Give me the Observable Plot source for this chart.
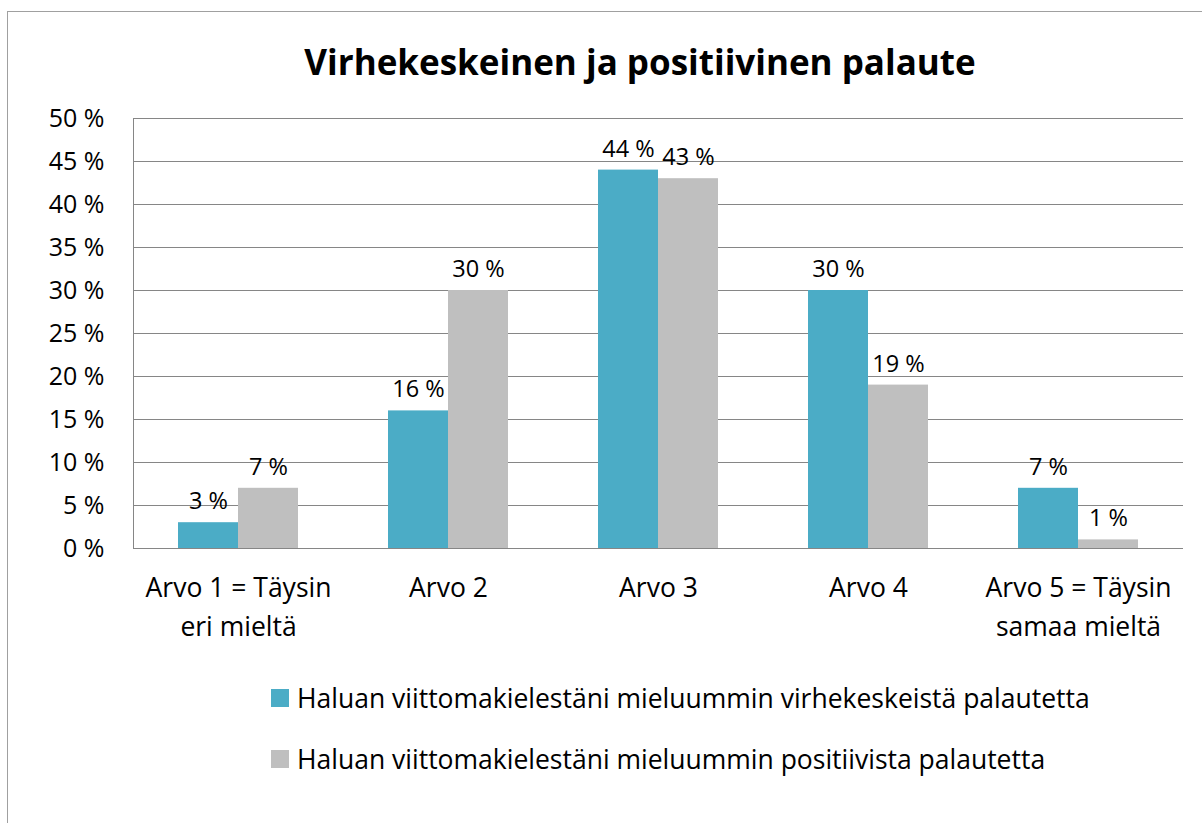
<!DOCTYPE html>
<html><head><meta charset="utf-8">
<script src="https://cdn.jsdelivr.net/npm/d3@7"></script>
<script src="https://cdn.jsdelivr.net/npm/@observablehq/plot@0.6"></script>
<style>
body{margin:0;background:#fff;}
#wrap{position:relative;width:1202px;height:823px;overflow:hidden;font-family:"Open Sans",Lato,sans-serif;color:#000;}
#border{position:absolute;left:7px;top:11px;width:1400px;height:1000px;border-left:1.5px solid #a0a0a0;border-top:1.5px solid #a0a0a0;}
#chart{position:absolute;left:0;top:0;}
#title{position:absolute;left:0;top:38px;width:1280px;text-align:center;font-weight:bold;font-size:35px;line-height:48px;}
#legend{position:absolute;left:271px;top:680px;font-size:26.5px;}
.item{display:flex;align-items:center;height:36px;margin-bottom:25px;}
.sw{width:18px;height:18px;margin-right:8px;flex:none;}
</style>
</head><body>
<div id="wrap">
<div id="border"></div>
<div id="chart"></div>
<div id="title">Virhekeskeinen ja positiivinen palaute</div>
<div id="legend"></div>
</div>
<script>
const titleText = "Virhekeskeinen ja positiivinen palaute";
const categories = ["Arvo 1 = Täysin\neri mieltä", "Arvo 2", "Arvo 3", "Arvo 4", "Arvo 5 = Täysin\nsamaa mieltä"];
const seriesNames = [
  "Haluan viittomakielestäni mieluummin virhekeskeistä palautetta",
  "Haluan viittomakielestäni mieluummin positiivista palautetta"
];
const virhekeskeinen = [3, 16, 44, 30, 7];
const positiivinen = [7, 30, 43, 19, 1];
const seriesColors = ["#4BACC6", "#BFBFBF"];
const yTicks = [0, 5, 10, 15, 20, 25, 30, 35, 40, 45, 50];

const data = categories.flatMap((c, i) => [
  {cat: c, series: seriesNames[0], value: virhekeskeinen[i]},
  {cat: c, series: seriesNames[1], value: positiivinen[i]}
]);

const chart = Plot.plot({
  width: 1202,
  height: 650,
  marginLeft: 133,
  marginRight: 19,
  marginTop: 118,
  marginBottom: 102,
  style: {fontFamily: "'Open Sans', Lato, sans-serif", fontSize: "24px", color: "#000", background: "transparent", overflow: "visible"},
  fx: {domain: categories, padding: 0, label: null},
  x: {domain: seriesNames, paddingInner: 0, paddingOuter: 0.75, axis: null},
  y: {domain: [0, 50], label: null},
  color: {domain: seriesNames, range: seriesColors},
  marks: [
    Plot.ruleY(yTicks, {stroke: "#868686", strokeWidth: 1}),
    Plot.frame({anchor: "left", facetAnchor: "left", stroke: "#868686"}),
    Plot.barY(data, {fx: "cat", x: "series", y: "value", fill: "series"}),
    Plot.text(data, {fx: "cat", x: "series", y: "value", text: d => d.value + " %", dy: -21, fontSize: 23.5, fill: "#000"}),
    Plot.axisY(yTicks, {tickSize: 0, tickPadding: 29, tickFormat: d => d + " %", fontSize: 25, label: null}),
    Plot.axisFx({anchor: "bottom", tickSize: 0, tickPadding: 20, lineHeight: 1.5, fontSize: 26.5, label: null})
  ]
});
document.getElementById("chart").appendChild(chart);

const legend = document.getElementById("legend");
seriesNames.forEach((s, i) => {
  const item = document.createElement("div");
  item.className = "item";
  const sw = document.createElement("span");
  sw.className = "sw";
  sw.style.background = seriesColors[i];
  const t = document.createElement("span");
  t.textContent = s;
  item.appendChild(sw);
  item.appendChild(t);
  legend.appendChild(item);
});
</script>
</body></html>
